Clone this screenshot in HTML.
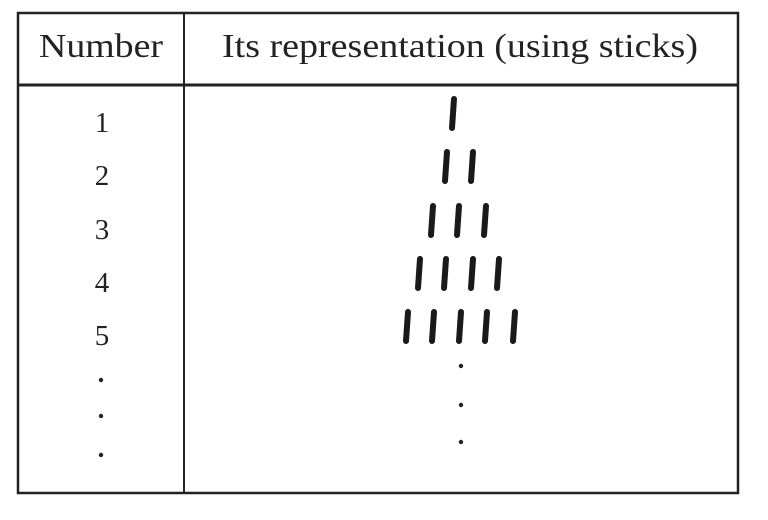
<!DOCTYPE html>
<html><head><style>body{margin:0;background:#fff}svg{display:block}</style></head><body>
<svg width="768" height="520" viewBox="0 0 768 520" xmlns="http://www.w3.org/2000/svg" font-family="Liberation Serif, serif" fill="#222">
<rect x="18" y="13" width="720" height="480" fill="none" stroke="#222" stroke-width="2.5"/>
<line x1="184" y1="13" x2="184" y2="493" stroke="#222" stroke-width="2"/>
<line x1="18" y1="85" x2="738" y2="85" stroke="#222" stroke-width="3"/>
<text x="101" y="57" font-size="34" text-anchor="middle" textLength="124" lengthAdjust="spacingAndGlyphs">Number</text>
<text x="222" y="57" font-size="34" textLength="476" lengthAdjust="spacingAndGlyphs">Its representation (using sticks)</text>
<g font-size="29" text-anchor="middle">
<text x="102" y="132">1</text><text x="102" y="185">2</text><text x="102" y="239">3</text><text x="102" y="292">4</text><text x="102" y="345">5</text>
</g>
<g fill="#222">
<circle cx="101" cy="380" r="2.2"/><circle cx="101" cy="416" r="2.2"/><circle cx="101" cy="455" r="2.2"/>
<circle cx="461" cy="366" r="2.2"/><circle cx="461" cy="405" r="2.2"/><circle cx="461" cy="442" r="2.2"/>
</g>
<g stroke="#1a1a1a" stroke-width="6" stroke-linecap="round">
<line x1="454" y1="99" x2="452" y2="128"/>
<line x1="447" y1="152" x2="445" y2="181"/><line x1="473" y1="152" x2="471" y2="181"/>
<line x1="433" y1="206" x2="431" y2="235"/><line x1="459" y1="206" x2="457" y2="235"/><line x1="486" y1="206" x2="484" y2="235"/>
<line x1="420" y1="259" x2="418" y2="288"/><line x1="446" y1="259" x2="444" y2="288"/><line x1="473" y1="259" x2="471" y2="288"/><line x1="499" y1="259" x2="497" y2="288"/>
<line x1="408" y1="312" x2="406" y2="341"/><line x1="434" y1="312" x2="432" y2="341"/><line x1="461" y1="312" x2="459" y2="341"/><line x1="487" y1="312" x2="485" y2="341"/><line x1="515" y1="312" x2="513" y2="341"/>
</g>
</svg>
</body></html>
